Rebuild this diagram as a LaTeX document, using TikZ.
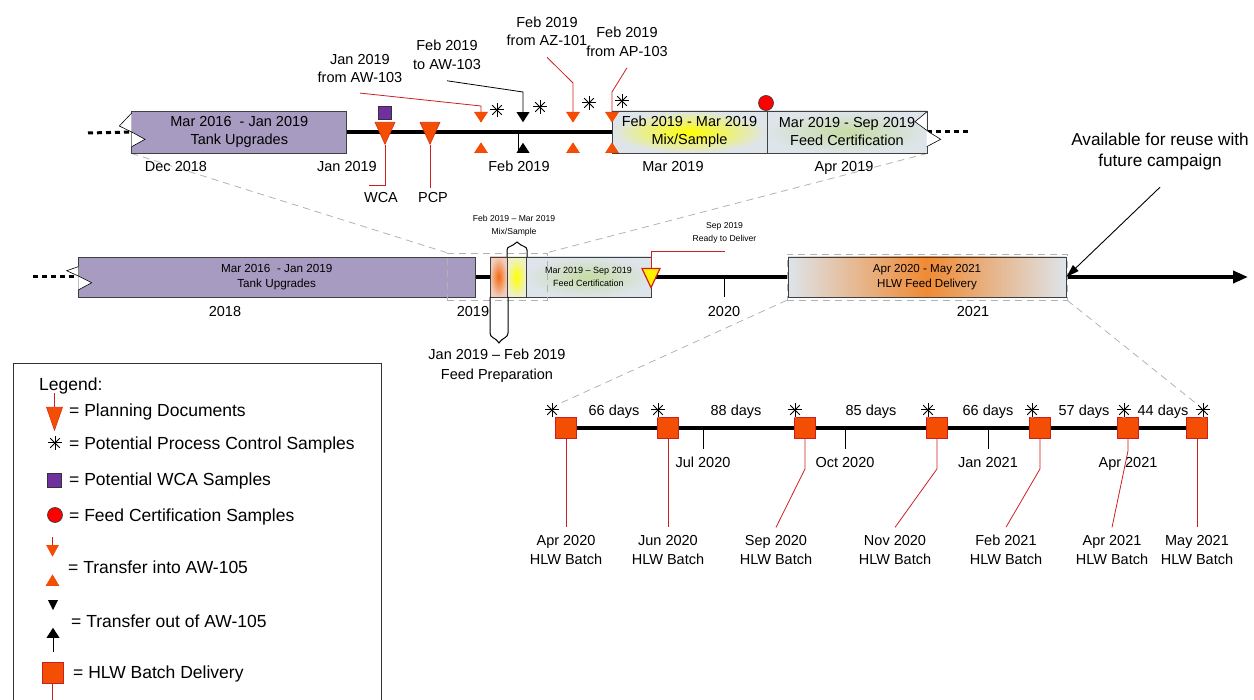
\documentclass[tikz,border=0pt]{standalone}
\usepackage{fontspec}
\setmainfont{Liberation Sans}
\usetikzlibrary{arrows.meta,positioning,shapes.geometric,calc,backgrounds}

\definecolor{tankpurple}{RGB}{168,155,194}
\definecolor{planorange}{RGB}{244,78,4}
\definecolor{leadred}{RGB}{204,32,32}
\definecolor{wcapurple}{RGB}{112,48,160}
\definecolor{certgrey}{RGB}{221,228,234}
\definecolor{certgreen}{RGB}{198,220,165}
\definecolor{prepcore}{RGB}{245,105,15}
\definecolor{prepedge}{RGB}{240,205,188}
\definecolor{mixedge}{RGB}{238,240,205}
\definecolor{hlwcore}{RGB}{240,138,52}
\definecolor{zoomgrey}{RGB}{178,178,178}

\tikzset{
  lbl/.style={font=\fontsize{14.5}{18.5}\selectfont, align=center, inner sep=0pt},
  one/.style={font=\fontsize{14.5}{18.5}\selectfont, inner sep=0pt, text height=10.4pt, text depth=0pt},
  tny/.style={font=\fontsize{8.6}{13}\selectfont, align=center, inner sep=0pt},
  leg/.style={font=\fontsize{17.5}{21}\selectfont, anchor=west, inner sep=0pt, text height=12.6pt, text depth=0pt},
  box/.style={draw=black!75, line width=.8pt, inner sep=0pt, align=center},
  tline/.style={line width=3.6pt},
  lead/.style={draw=leadred, line width=.8pt},
  zoomline/.style={draw=zoomgrey, line width=.8pt, dash pattern=on 7pt off 5pt},
  dots/.style={line width=3pt, dash pattern=on 5pt off 4pt},
  tri/.style={isosceles triangle, isosceles triangle stretches, inner sep=0pt, anchor=west},
  tdown/.style={tri, rotate=-90},
  tup/.style={tri, rotate=90},
  plandoc/.style={tdown, fill=planorange, draw=leadred!70!planorange, line width=.6pt, minimum width=20pt, minimum height=22pt},
  xferin/.style={fill=planorange, draw=planorange!80!red, line width=.4pt, minimum width=13pt, minimum height=10pt},
  xferout/.style={fill=black, minimum width=13pt, minimum height=10pt},
  pcs/.style={circle, fill=white, inner sep=0pt, minimum size=15pt,
    path picture={\foreach \a in {0,45,...,315}
      \draw[line width=1pt] (path picture bounding box.center) -- ++(\a:6.8);}},
  wcas/.style={fill=wcapurple, draw=black!80, line width=.6pt, inner sep=0pt, minimum size=13pt},
  certs/.style={circle, fill=red, draw=black!80, line width=.6pt, inner sep=0pt, minimum size=15pt},
  batch/.style={fill=planorange, draw=leadred, line width=.8pt, inner sep=0pt, minimum size=21pt}
}

\begin{document}
\begin{tikzpicture}[x=1pt, y=-1pt]
\useasboundingbox (0,0) rectangle (1254,700);

% top row: detail of 2019
\node[box, fill=tankpurple, minimum width=215pt, minimum height=42pt, font=\fontsize{14.5}{18}\selectfont] (tu1) at (239.3,132) {Mar 2016~~- Jan 2019\\Tank Upgrades};
\node[box, inner color=yellow, outer color=certgrey, minimum width=155pt, minimum height=42pt, font=\fontsize{14.5}{18}\selectfont] (mix1) at (689.5,132) {Feb 2019 - Mar 2019\\Mix/Sample};
\node[box, inner color=certgreen, outer color=certgrey, minimum width=160pt, minimum height=42pt, font=\fontsize{14.5}{18}\selectfont] (fc1) at (847,132) {Mar 2019 - Sep 2019\\Feed Certification};
\coordinate (d1) at (88,133);
\coordinate (d2) at (972,132);

\foreach \nm/\x/\t in {dec/176/Dec 2018, jan/347/Jan 2019, feb/519/Feb 2019, mar/673/Mar 2019, apr/844/Apr 2019}
  \node[one] (\nm) at (\x,166) {\t};
\draw[line width=.8pt] (518,133) -- (518,153);

% planning documents
\node[wcas] (wsq) at (385,112.5) {};
\node[plandoc] (wca) at (385,122) {};
\node[plandoc] (pcp) at (430,122) {};
\node[one] (wcal) at (381,197) {WCA};
\node[one] (pcpl) at (433,197) {PCP};
\draw[lead] (wca.apex) |- ($(wcal.north)+(-12,-6)$);
\draw[lead] (pcp.apex) -- ++(0,43);

% transfers
\foreach \nm/\x in {a/481, b/573, c/612} {
  \node[tdown, xferin] (in\nm) at (\x,112) {};
  \node[tup, xferin] (up\nm) at (\x,153) {};
}
\node[tdown, xferout] (outd) at (523,112) {};
\node[tup, xferout] (outu) at (523,153) {};

\node[lbl] (aw103in) at (360,68.5) {Jan 2019\\from AW-103};
\node[lbl] (aw103out) at (447,55) {Feb 2019\\to AW-103};
\node[lbl] (az101) at (547,31.5) {Feb 2019\\from AZ-101};
\node[lbl] (ap103) at (627,42) {Feb 2019\\from AP-103};
\draw[lead] ([yshift=-10pt]aw103in.south) -- ($(ina.west)+(0,-6)$) -- (ina.west);
\draw[line width=.8pt] ([yshift=-11pt]aw103out.south) -- ($(outd.west)+(0,-20)$) -- (outd.west);
\draw[lead] ([yshift=-11pt]az101.south) -- ($(inb.west)+(0,-29)$) -- (inb.west);
\draw[lead] ([yshift=-11pt]ap103.south) -- ($(inc.west)+(0,-20)$) -- (inc.west);

\foreach \i/\x/\y in {1/497/110, 2/540/107, 3/589/103, 4/622/101}
  \node[pcs] (ps\i) at (\x,\y) {};
\node[certs] (fcs) at (766,103) {};

% breaks
\filldraw[fill=white, line width=.6pt] (131.7,113) -- (119.3,126) -- (131.7,132) -- (145,139.3) -- (131.7,146.7);
\filldraw[fill=white, line width=.6pt] (926.7,112) -- (915,121.7) -- (930,132.7) -- (940.7,139.3) -- (926.7,146.7);

% middle row: whole campaign
\node[box, fill=tankpurple, minimum width=397pt, minimum height=40pt, font=\fontsize{11.7}{15.5}\selectfont] (tu2) at (276.7,277) {Mar 2016~~- Jan 2019\\Tank Upgrades};
\node[box, inner color=prepcore, outer color=prepedge, minimum width=17pt, minimum height=40pt] (prep2) at (498.5,277) {};
\node[box, inner color=yellow, outer color=mixedge, minimum width=19pt, minimum height=40pt] (mix2) at (516.5,277) {};
\node[box, inner color=certgreen, outer color=certgrey, minimum width=125pt, minimum height=40pt, font=\fontsize{9}{13}\selectfont] (fc2) at (588.5,277) {Mar 2019 – Sep 2019\\Feed Certification};
\node[box, left color=certgrey, right color=certgrey, middle color=hlwcore, minimum width=278pt, minimum height=40pt, font=\fontsize{11.6}{15}\selectfont] (hlw2) at (927,277) {Apr 2020 - May 2021\\HLW Feed Delivery};
\node[draw=zoomgrey, line width=.8pt, dash pattern=on 7pt off 5pt, minimum width=100pt, minimum height=47pt] (zoomA) at (497,276.5) {};
\node[draw=zoomgrey, line width=.8pt, dash pattern=on 7pt off 5pt, minimum width=280pt, minimum height=46pt] (zoomB) at (927,277) {};
\coordinate (d3) at (33,277);
\coordinate (tip) at (1248,277);
\filldraw[fill=white, line width=.6pt] (78.3,266.7) -- (66.7,270.7) -- (78.3,276) -- (91.7,282.7) -- (78.3,290);

\foreach \nm/\x/\t in {y18/225/2018, y19/473/2019, y20/724/2020, y21/973/2021}
  \node[one] (\nm) at (\x,311) {\t};
\draw[line width=.8pt] (724,277) -- (724,297);

% braces
\draw[line width=1pt] (507,257) -- (507,250) .. controls (507,246) and (512,247) .. (517,242) .. controls (522,247) and (527,246) .. (527,250) -- (527,257);
\draw[line width=1pt] (490,297) -- (490,333) .. controls (490,338) and (495,337) .. (499,343) .. controls (503,337) and (508,338) .. (508,333) -- (508,297);
\node[tny] (mixlbl) at (514,225.5) {Feb 2019 – Mar 2019\\Mix/Sample};
\node[font=\fontsize{14.5}{20}\selectfont, align=center, inner sep=0pt] (preplbl) at (497,366) {Jan 2019 – Feb 2019\\Feed Preparation};

% ready to deliver
\node[tdown, fill=yellow, draw=leadred, line width=1.2pt, minimum width=18pt, minimum height=19pt] (rdy) at (651,268) {};
\node[tny] (rdylbl) at (724.5,232.5) {Sep 2019\\Ready to Deliver};
\draw[lead] ([yshift=-8pt]rdylbl.south) -| (rdy.west);

\node[font=\fontsize{17.2}{21}\selectfont, align=center, inner sep=0pt] (reuse) at (1160,151.5) {Available for reuse with\\future campaign};
\draw[line width=.9pt, -{Triangle[length=13pt, width=8pt]}] ([yshift=-17pt]reuse.south) -- (hlw2.east);

% bottom row: HLW batches
\foreach \n/\x/\sx/\lx/\k/\mon in {1/566/552/566/0/Apr 2020, 2/668/658/668/0/Jun 2020, 3/805/795/776/30/Sep 2020, 4/937/928/895/30/Nov 2020, 5/1040/1032/1006/30/Feb 2021, 6/1128/1124/1112/12/Apr 2021, 7/1197/1203/1197/0/May 2021} {
  \node[batch] (b\n) at (\x,428) {};
  \node[pcs] (bs\n) at (\sx,410) {};
  \node[lbl] (bl\n) at (\lx,550) {\mon\\HLW Batch};
}
\foreach \n/\x/\days in {1/614/66, 2/736/88, 3/871/85, 4/988/66, 5/1084/57, 6/1163/44}
  \node[one] (gap\n) at (\x,410) {\days{} days};
\foreach \n/\x/\m in {1/703/Jul 2020, 2/845/Oct 2020, 3/988/Jan 2021} {
  \node[one] (mt\n) at (\x,462) {\m};
  \draw[line width=.8pt] (mt\n.north |- b1.center) -- ++(0,21);
}
\node[one] (mt4) at (1128,462) {Apr 2021};
\foreach \n/\k in {1/0, 2/0, 3/30, 4/30, 5/30, 6/12, 7/0}
  \draw[lead] (b\n.south) -- ++(0,\k) -- ([yshift=8pt]bl\n.north);

% legend
\node[draw=black!80, line width=.8pt, minimum width=368pt, minimum height=350pt, anchor=north west] (legbox) at (13,363) {};
\node[leg] (lgtitle) at (39,384) {Legend:};
\node[plandoc, minimum width=16pt, minimum height=23pt] (lgplan) at (54.5,407) {};
\draw[lead] (lgplan.west) -- ++(0,-14);
\node[leg] (lgplant) at (69,410) {= Planning Documents};
\node[pcs] (lgstar) at (55,443) {};
\node[leg] (lgstart) at (69,443) {= Potential Process Control Samples};
\node[wcas, minimum size=14pt] (lgwca) at (54.5,480.5) {};
\node[leg] (lgwcat) at (69,479) {= Potential WCA Samples};
\node[certs] (lgcert) at (55,515) {};
\node[leg] (lgcertt) at (69,515) {= Feed Certification Samples};
\node[tdown, xferin, minimum width=12pt, minimum height=11pt] (lgind) at (52.5,545) {};
\draw[lead] (lgind.west) -- ++(0,-8);
\node[tup, xferin, minimum width=13pt, minimum height=11pt] (lginu) at (52.5,586) {};
\node[leg] (lgint) at (68,567) {= Transfer into AW-105};
\node[tdown, xferout, minimum width=10pt, minimum height=10pt] (lgoutd) at (53,600) {};
\node[tup, xferout, minimum width=13pt, minimum height=10pt] (lgoutu) at (53,638) {};
\draw[line width=.8pt] (lgoutu.west) -- ++(0,14);
\node[leg] (lgoutt) at (71,621) {= Transfer out of AW-105};
\node[batch] (lgbatch) at (52.5,672.5) {};
\draw[lead] (lgbatch.south) -- ++(0,20);
\node[leg] (lgbatcht) at (73,672) {= HLW Batch Delivery};

% timelines and zoom guides behind
\begin{pgfonlayer}{background}
  \draw[zoomline] (tu1.south west) -- (zoomA.north west);
  \draw[zoomline] (fc1.south east) -- (zoomA.north east);
  \draw[zoomline] (zoomB.south west) -- (bs1.north east);
  \draw[zoomline] (zoomB.south east) -- (bs7.north west);
  \draw[dots] (d1) -- (tu1.west);
  \draw[tline] (tu1.west) -- (mix1.west);
  \draw[dots] (fc1.east) -- (d2);
  \draw[dots] (d3) -- (tu2.west);
  \draw[tline, -{Triangle[length=15pt, width=12pt]}] (tu2.west) -- (tip);
  \draw[tline] (b1.center) -- (b7.center);
\end{pgfonlayer}
\end{tikzpicture}
\end{document}
